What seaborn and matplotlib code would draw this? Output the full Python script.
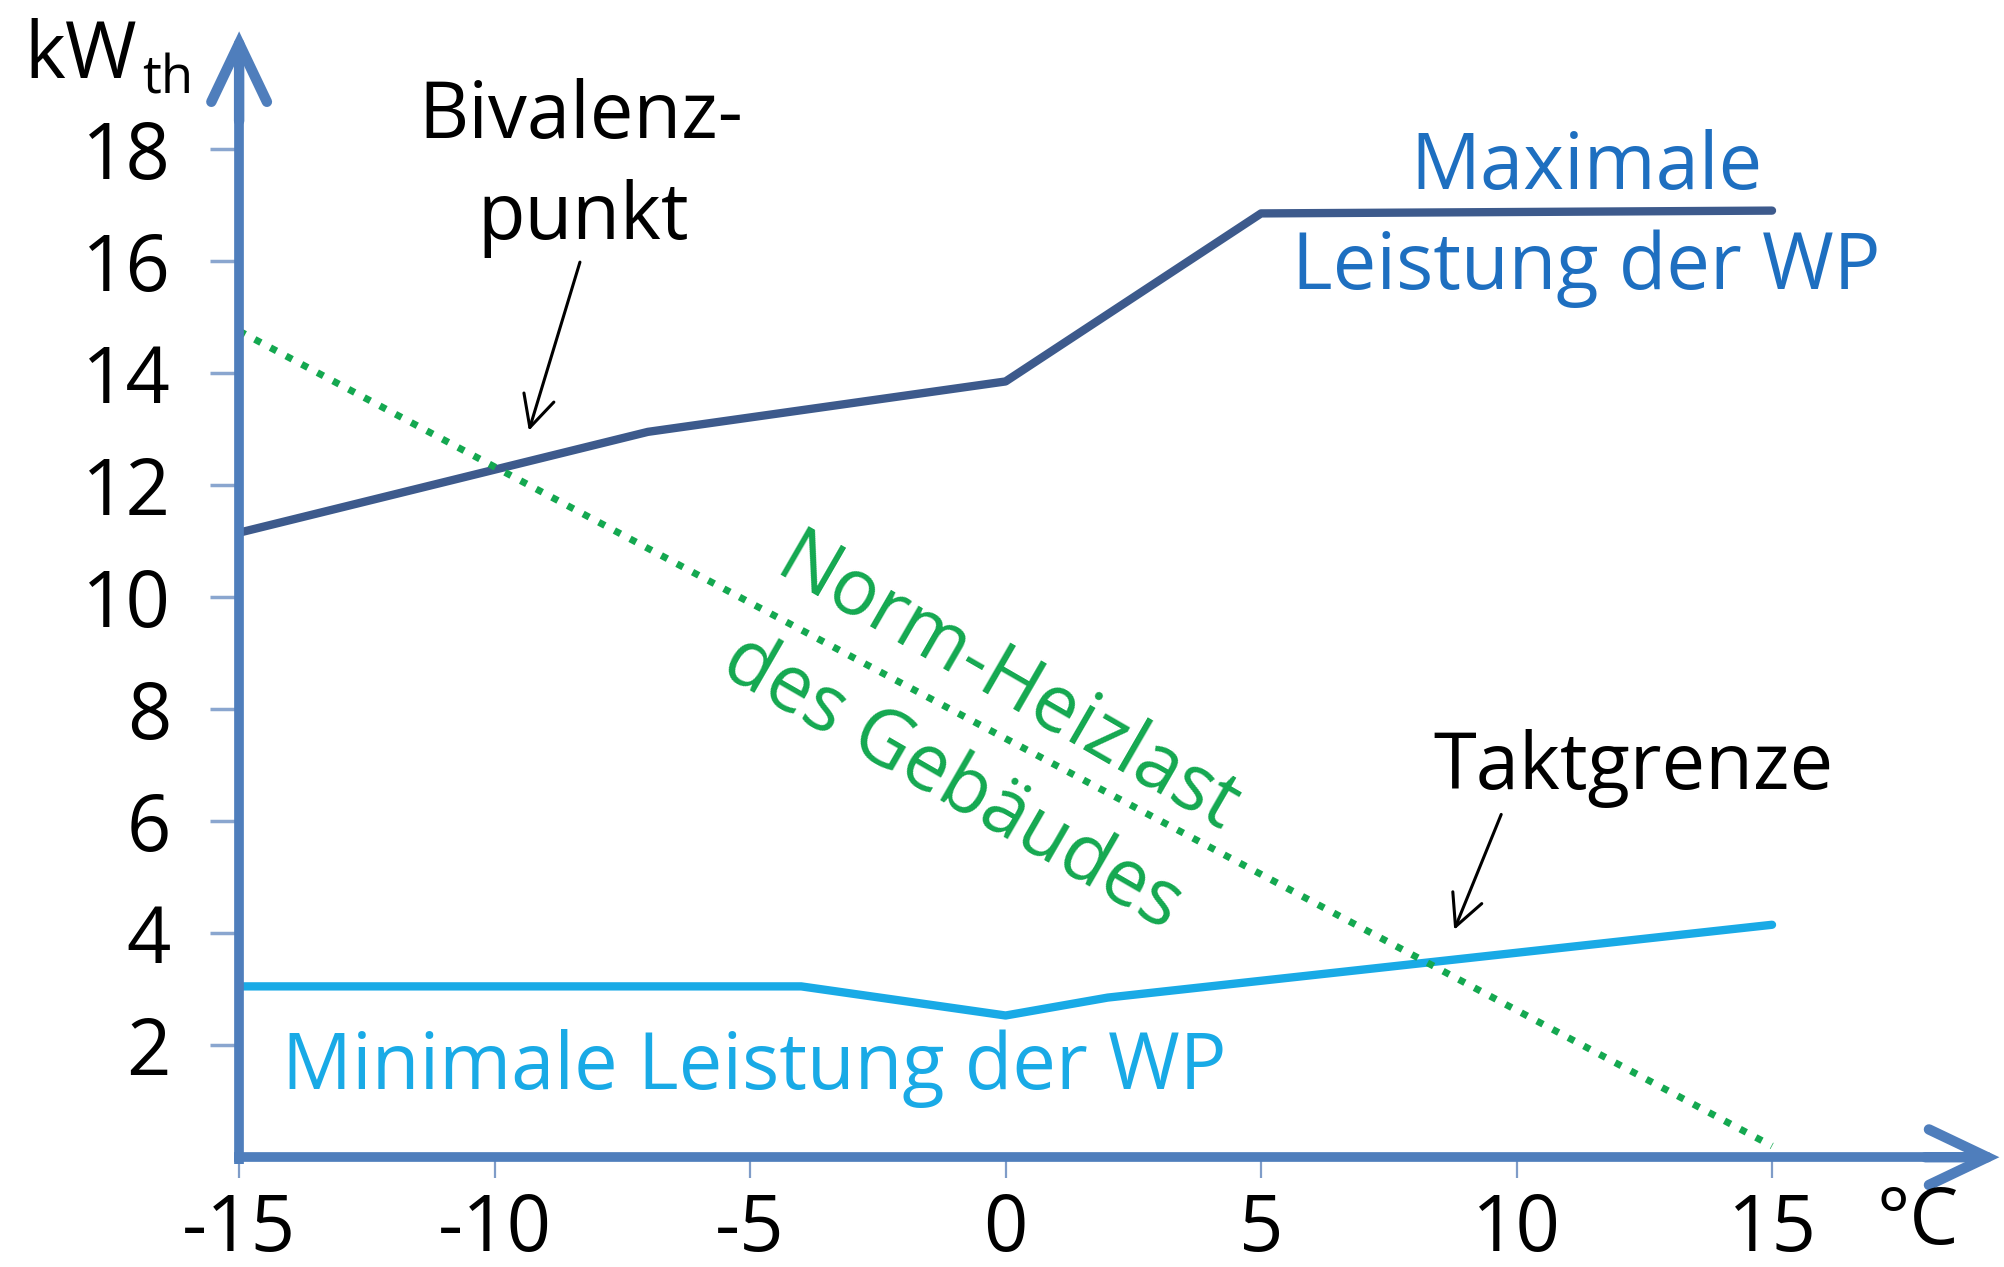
import matplotlib
matplotlib.use("Agg")
import matplotlib.pyplot as plt
import seaborn as sns

# Data (outdoor temperature in °C, power in kW_th)
temp_max = [-15, -7, 0, 5, 15]
power_max = [11.15, 12.95, 13.85, 16.85, 16.9]

temp_min = [-15, -4, 0, 2, 15]
power_min = [3.05, 3.05, 2.53, 2.85, 4.15]

temp_load = [-15, 15]
heat_load = [14.75, 0.2]

x_ticks = [-15, -10, -5, 0, 5, 10, 15]
y_ticks = [2, 4, 6, 8, 10, 12, 14, 16, 18]

sns.set_theme(style="white")
plt.rcParams["font.family"] = ["Open Sans", "DejaVu Sans"]
plt.rcParams["axes.unicode_minus"] = False

axis_col = "#4f7ebc"
fs = 56

fig = plt.figure(figsize=(20.04, 12.67), dpi=100)
ax = fig.add_axes([0, 0, 1, 1])
ax.set_xlim(-19.68, 19.54)
ax.set_ylim(-1.96, 20.66)

# curves
sns.lineplot(x=temp_max, y=power_max, ax=ax, color="#3d5a8c", linewidth=6)
sns.lineplot(x=temp_min, y=power_min, ax=ax, color="#19aae6", linewidth=6)
sns.lineplot(x=temp_load, y=heat_load, ax=ax, color="#14a850", linewidth=5,
             linestyle=(0, (1, 1.55)))

# axes as arrows crossing at (-15, 0)
for s in ["top", "right"]:
    ax.spines[s].set_visible(False)
ax.spines["left"].set_position(("data", -15))
ax.spines["bottom"].set_position(("data", 0))
ax.spines["left"].set_bounds(-0.12, 19.0)
ax.spines["bottom"].set_bounds(-15.1, 18.6)
for s in ["left", "bottom"]:
    ax.spines[s].set_color(axis_col)
    ax.spines[s].set_linewidth(7)
    ax.spines[s].set_capstyle("butt")

arrow = dict(arrowstyle="->,head_length=0.42,head_width=0.2", color=axis_col,
             lw=7.5, mutation_scale=100, shrinkA=0, shrinkB=0, joinstyle="miter",
             capstyle="round")
ax.annotate("", xy=(-15, 20.1), xytext=(-15, 18.5), arrowprops=arrow)
ax.annotate("", xy=(19.45, 0), xytext=(18.0, 0), arrowprops=arrow)

ax.set_xticks(x_ticks)
ax.set_yticks(y_ticks)
ax.set_xticklabels([str(v) for v in x_ticks])
ax.set_yticklabels([str(v) for v in y_ticks])
ax.tick_params(axis="y", direction="out", length=21, width=2.5, color="#8aa6cf",
               pad=28, labelsize=fs, labelcolor="black", left=True)
ax.tick_params(axis="x", direction="out", length=15, width=1.6, color="#7f9cc8",
               pad=9, labelsize=fs, labelcolor="black", bottom=True)
ax.grid(False)
ax.set_facecolor("white")

# unit labels
ax.text(0.012, 0.955, "kW", transform=ax.transAxes, fontsize=fs, ha="left",
        va="center", color="black")
ax.text(0.071, 0.937, "th", transform=ax.transAxes, fontsize=38, ha="left",
        va="center", color="black")
ax.text(0.957, 0.018, "°C", transform=ax.transAxes, fontsize=fs, ha="center",
        va="baseline", color="black")

# annotations
ax.text(0.290, 1 - 108 / 991, "Bivalenz-", transform=ax.transAxes, fontsize=fs,
        ha="center", va="baseline", color="black")
ax.text(0.291, 1 - 187 / 991, "punkt", transform=ax.transAxes, fontsize=fs,
        ha="center", va="baseline", color="black")
ax.annotate("", xy=(-9.33, 12.97), xytext=(-8.33, 15.98),
            arrowprops=dict(arrowstyle="->,head_length=0.5,head_width=0.25",
                            color="black", lw=2.2, mutation_scale=45,
                            shrinkA=0, shrinkB=0))

ax.text(1241 / 1568, 1 - 148 / 991, "Maximale", transform=ax.transAxes,
        fontsize=fs, ha="center", va="baseline", color="#1e6fc0")
ax.text(1241 / 1568, 1 - 226 / 991, "Leistung der WP", transform=ax.transAxes,
        fontsize=fs, ha="center", va="baseline", color="#1e6fc0")

ax.text(1278 / 1568, 1 - 617 / 991, "Taktgrenze", transform=ax.transAxes,
        fontsize=fs, ha="center", va="baseline", color="black")
ax.annotate("", xy=(8.78, 4.06), xytext=(9.7, 6.12),
            arrowprops=dict(arrowstyle="->,head_length=0.5,head_width=0.25",
                            color="black", lw=2.2, mutation_scale=45,
                            shrinkA=0, shrinkB=0))

ax.text(590 / 1568, 1 - 852 / 991, "Minimale Leistung der WP",
        transform=ax.transAxes, fontsize=fs, ha="center", va="baseline",
        color="#19aae6")

ax.text(788 / 1568, 1 - 537 / 991, "Norm-Heizlast", transform=ax.transAxes,
        fontsize=fs, ha="center", va="center", rotation=-30,
        rotation_mode="anchor", color="#14a850")
ax.text(745 / 1568, 1 - 613 / 991, "des Gebäudes", transform=ax.transAxes,
        fontsize=fs, ha="center", va="center", rotation=-30,
        rotation_mode="anchor", color="#14a850")

fig.savefig("out.png", dpi=100, facecolor="white")
